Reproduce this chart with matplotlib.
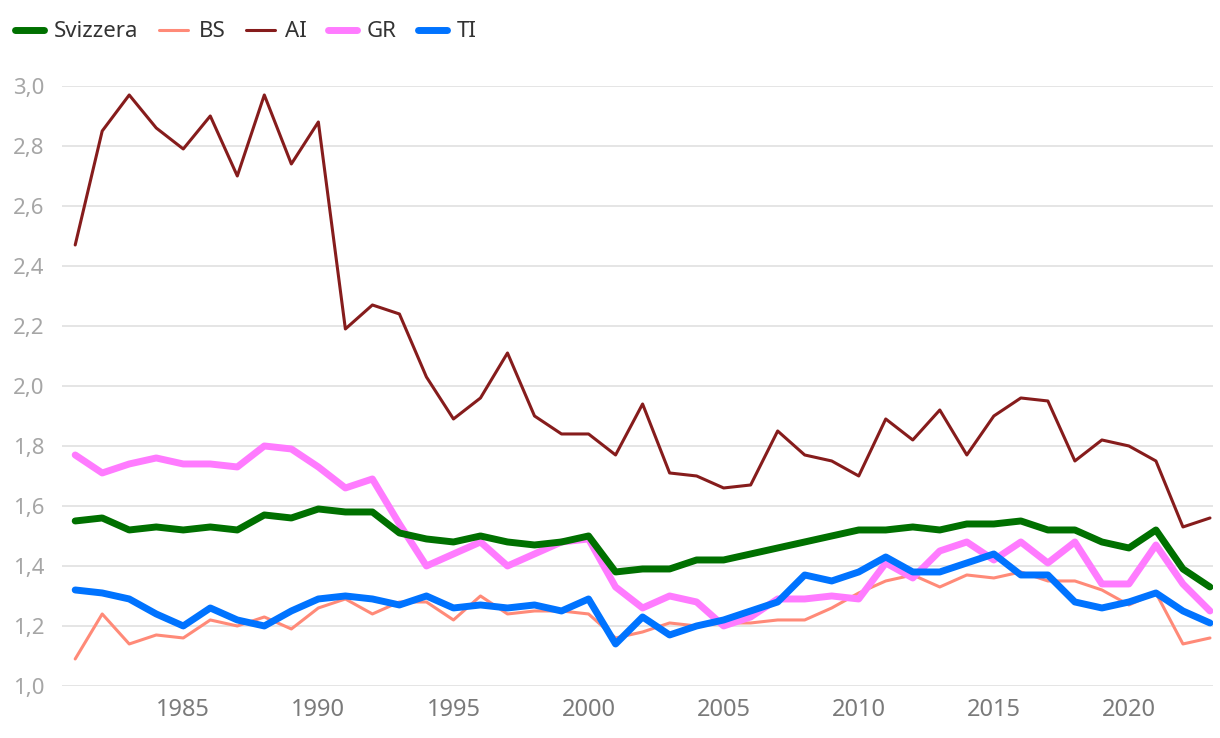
import matplotlib.pyplot as plt
from matplotlib.ticker import FuncFormatter, MultipleLocator

plt.rcParams['font.family'] = ['Noto Sans', 'DejaVu Sans']

years = list(range(1981, 2024))

svizzera = [1.55, 1.56, 1.52, 1.53, 1.52, 1.53, 1.52, 1.57, 1.56, 1.59,
            1.58, 1.58, 1.51, 1.49, 1.48, 1.50, 1.48, 1.47, 1.48, 1.50,
            1.38, 1.39, 1.39, 1.42, 1.42, 1.44, 1.46, 1.48, 1.50, 1.52,
            1.52, 1.53, 1.52, 1.54, 1.54, 1.55, 1.52, 1.52, 1.48, 1.46,
            1.52, 1.39, 1.33]
bs = [1.09, 1.24, 1.14, 1.17, 1.16, 1.22, 1.20, 1.23, 1.19, 1.26,
      1.29, 1.24, 1.28, 1.28, 1.22, 1.30, 1.24, 1.25, 1.25, 1.24,
      1.16, 1.18, 1.21, 1.20, 1.21, 1.21, 1.22, 1.22, 1.26, 1.31,
      1.35, 1.37, 1.33, 1.37, 1.36, 1.38, 1.35, 1.35, 1.32, 1.27,
      1.31, 1.14, 1.16]
ai = [2.47, 2.85, 2.97, 2.86, 2.79, 2.90, 2.70, 2.97, 2.74, 2.88,
      2.19, 2.27, 2.24, 2.03, 1.89, 1.96, 2.11, 1.90, 1.84, 1.84,
      1.77, 1.94, 1.71, 1.70, 1.66, 1.67, 1.85, 1.77, 1.75, 1.70,
      1.89, 1.82, 1.92, 1.77, 1.90, 1.96, 1.95, 1.75, 1.82, 1.80,
      1.75, 1.53, 1.56]
gr = [1.77, 1.71, 1.74, 1.76, 1.74, 1.74, 1.73, 1.80, 1.79, 1.73,
      1.66, 1.69, 1.54, 1.40, 1.44, 1.48, 1.40, 1.44, 1.48, 1.49,
      1.33, 1.26, 1.30, 1.28, 1.20, 1.23, 1.29, 1.29, 1.30, 1.29,
      1.41, 1.36, 1.45, 1.48, 1.42, 1.48, 1.41, 1.48, 1.34, 1.34,
      1.47, 1.34, 1.25]
ti = [1.32, 1.31, 1.29, 1.24, 1.20, 1.26, 1.22, 1.20, 1.25, 1.29,
      1.30, 1.29, 1.27, 1.30, 1.26, 1.27, 1.26, 1.27, 1.25, 1.29,
      1.14, 1.23, 1.17, 1.20, 1.22, 1.25, 1.28, 1.37, 1.35, 1.38,
      1.43, 1.38, 1.38, 1.41, 1.44, 1.37, 1.37, 1.28, 1.26, 1.28,
      1.31, 1.25, 1.21]

fig = plt.figure(figsize=(12.2, 7.38), dpi=100)
ax = fig.add_axes([0.051, 0.0705, 0.943, 0.813])

style = dict(solid_capstyle='round', solid_joinstyle='round')
ax.plot(years, svizzera, color='#007000', lw=5, label='Svizzera', zorder=4, **style)
ax.plot(years, bs, color='#ff8a78', lw=2.2, label='BS', zorder=2, **style)
ax.plot(years, ai, color='#861c1c', lw=2.2, label='AI', zorder=2, **style)
ax.plot(years, gr, color='#ff7bff', lw=5, label='GR', zorder=3, **style)
ax.plot(years, ti, color='#0073ff', lw=5, label='TI', zorder=5, **style)

ax.set_ylim(1.0, 3.0)
ax.set_xlim(1980.52, 2023.1)
ax.yaxis.set_major_locator(MultipleLocator(0.2))
ax.yaxis.set_major_formatter(FuncFormatter(lambda v, p: f'{v:.1f}'.replace('.', ',')))
ax.set_xticks(range(1985, 2021, 5))
ax.grid(axis='y', color='#e3e3e3', lw=1.3)
ax.set_axisbelow(True)
for s in ax.spines.values():
    s.set_visible(False)
ax.tick_params(length=0)
ax.tick_params(axis='y', pad=13, labelsize=16, labelcolor='#a6a6a6')
ax.tick_params(axis='x', pad=9, labelsize=17, labelcolor='#7a7a7a')

fig.legend(loc='upper left', bbox_to_anchor=(-0.004, 0.998), ncol=5, frameon=False,
           fontsize=16, handlelength=1.3, handletextpad=0.45, columnspacing=0.95,
           labelcolor='#333333')

fig.savefig('out.png', dpi=100)
